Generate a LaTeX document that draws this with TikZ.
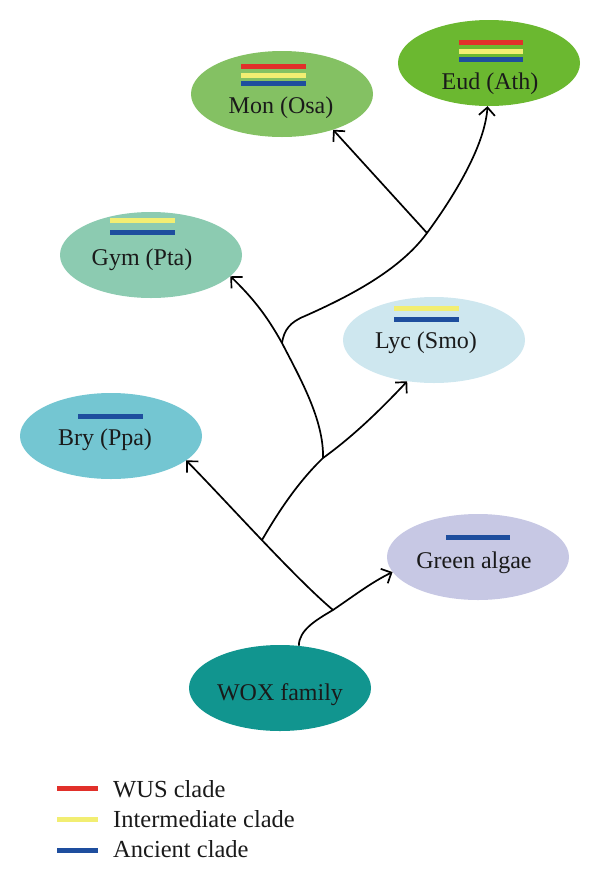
\documentclass[tikz,border=0pt]{standalone}
\usepackage{fontspec}
\setmainfont{Liberation Serif}
\usetikzlibrary{arrows.meta,shapes.geometric}
\definecolor{cMon}{HTML}{84C163}
\definecolor{cEud}{HTML}{6BB830}
\definecolor{cGym}{HTML}{8CCBB1}
\definecolor{cLyc}{HTML}{CEE7EF}
\definecolor{cBry}{HTML}{74C6D2}
\definecolor{cGa}{HTML}{C7C8E4}
\definecolor{cWox}{HTML}{11958F}
\definecolor{bRed}{HTML}{E1302A}
\definecolor{bYel}{HTML}{F2EE72}
\definecolor{bBlu}{HTML}{1E4E9E}
\definecolor{txt}{HTML}{1A1A1A}
\begin{document}
\begin{tikzpicture}[x=1pt,y=-1pt,
  blob/.style={ellipse, minimum width=182pt, minimum height=86pt, inner sep=0pt, draw=none},
  lbl/.style={font=\fontsize{24}{28}\selectfont, text=txt, inner sep=0pt, anchor=base},
  leg/.style={font=\fontsize{24.5}{28}\selectfont, text=txt, inner sep=0pt, anchor=base west},
  conn/.style={line width=1.7pt, black},
  arr/.style={conn, -{Straight Barb[length=8pt,width=16pt,line width=1.7pt]}},
  bar/.style={line width=5pt}
]
\useasboundingbox (0,0) rectangle (600,887);

% ellipses
\node[blob, fill=cMon] (mon) at (282,94) {};
\node[blob, fill=cEud] (eud) at (489,63) {};
\node[blob, fill=cGym] (gym) at (151,255) {};
\node[blob, fill=cLyc] (lyc) at (434,340) {};
\node[blob, fill=cBry] (bry) at (111,436) {};
\node[blob, fill=cGa] (ga) at (478,557) {};
\node[blob, fill=cWox] (wox) at (280,688) {};

% labels
\node[lbl] (monT) at (281,113) {Mon (Osa)};
\node[lbl] (eudT) at (490,89) {Eud (Ath)};
\node[lbl] (gymT) at (142,265) {Gym (Pta)};
\node[lbl] (lycT) at (426,348) {Lyc (Smo)};
\node[lbl] (bryT) at (105,445) {Bry (Ppa)};
\node[lbl] (gaT) at (474,568) {Green algae};
\node[lbl] (woxT) at (280,700) {WOX family};

% clade bars
\draw[bar, bRed] (241,66.5) -- (306,66.5);
\draw[bar, bYel] (241,75) -- (306,75);
\draw[bar, bBlu] (241,83.5) -- (306,83.5);
\draw[bar, bRed] (459,42.5) -- (523,42.5);
\draw[bar, bYel] (459,51) -- (523,51);
\draw[bar, bBlu] (459,59.5) -- (523,59.5);
\draw[bar, bYel] (110,220.5) -- (175,220.5);
\draw[bar, bBlu] (110,232) -- (175,232);
\draw[bar, bYel] (394,308.5) -- (459,308.5);
\draw[bar, bBlu] (394,319.5) -- (459,319.5);
\draw[bar, bBlu] (78,416.5) -- (143,416.5);
\draw[bar, bBlu] (446,537.5) -- (510,537.5);

% junctions
\coordinate (j1) at (333,610);
\coordinate (j2) at (262,540);
\coordinate (j3) at (323,458);
\coordinate (j4) at (282,343);
\coordinate (k1) at (305,316);
\coordinate (j5) at (427,233);

% connectors
\draw[arr] (wox.66) .. controls (299,630) and (316,620) .. (j1)
  .. controls (355,595) and (372,582) .. (ga.190);
\draw[arr] (j1) .. controls (295,578) and (228,503) .. (bry.342);
\draw[arr] (j2) .. controls (276,516) and (296,484) .. (j3)
  .. controls (355,435) and (383,407) .. (lyc.237);
\draw[arr] (j3) .. controls (324,420) and (300,378) .. (j4)
  .. controls (268,318) and (255,300) .. (gym.345);
\draw[conn] (j4) .. controls (284,330) and (290,322) .. (k1);
\draw[arr] (k1) .. controls (350,296) and (400,270) .. (j5)
  .. controls (455,195) and (485,145) .. (eud.268);
\draw[arr] (j5) -- (mon.325);

% legend
\draw[bar, bRed] (57,788) -- (98,788);
\draw[bar, bYel] (57,819) -- (98,819);
\draw[bar, bBlu] (57,850) -- (98,850);
\node[leg] (l1) at (113,797) {WUS clade};
\node[leg] (l2) at (113,827) {Intermediate clade};
\node[leg] (l3) at (113,857) {Ancient clade};
\end{tikzpicture}
\end{document}
